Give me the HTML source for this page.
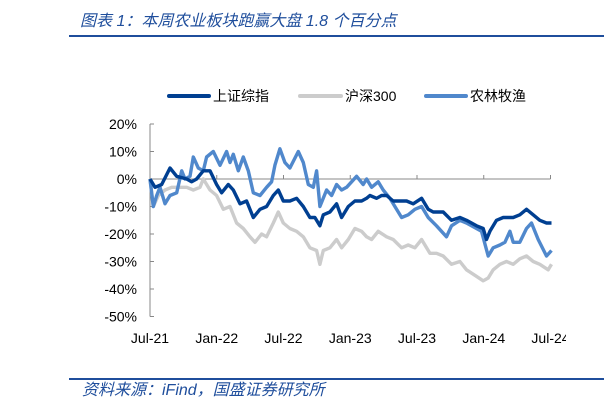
<!DOCTYPE html>
<html><head><meta charset="utf-8">
<style>
body{margin:0;width:608px;height:408px;background:#fff;overflow:hidden;font-family:"Liberation Sans","Noto Sans CJK SC",sans-serif}
svg{display:block}
</style></head>
<body>
<svg id="chart" width="608" height="408" xmlns="http://www.w3.org/2000/svg">
<defs><clipPath id="lblclip"><rect x="0" y="0" width="566" height="408"/></clipPath></defs>
<text x="80" y="26" font-size="16" font-style="italic" fill="#1f4e9c" font-family="Liberation Sans,Noto Sans CJK SC,sans-serif">图表 1：本周农业板块跑赢大盘 1.8 个百分点</text>
<line x1="69" y1="36" x2="604" y2="36" stroke="#1f4e9c" stroke-width="2"/>
<g font-size="14" fill="#000">
<line x1="169" y1="96" x2="209" y2="96" stroke="#003f91" stroke-width="4" stroke-linecap="round"/>
<text x="213" y="101">上证综指</text>
<line x1="300" y1="96" x2="341" y2="96" stroke="#cccccc" stroke-width="4" stroke-linecap="round"/>
<text x="345" y="101">沪深300</text>
<line x1="426" y1="96" x2="466" y2="96" stroke="#5088cc" stroke-width="4" stroke-linecap="round"/>
<text x="470" y="101">农林牧渔</text>
</g>
<g id="axes"></g>
<g id="series"></g>
<line x1="69" y1="379" x2="604" y2="379" stroke="#1f4e9c" stroke-width="2"/>
<text x="82" y="395" font-size="16" font-style="italic" fill="#1f4e9c" font-family="Liberation Sans,Noto Sans CJK SC,sans-serif">资料来源：iFind，国盛证券研究所</text>
</svg>
<script>
const xTickLabels=["Jul-21","Jan-22","Jul-22","Jan-23","Jul-23","Jan-24","Jul-24"];
const yTicks=[20,10,0,-10,-20,-30,-40,-50];
const sseX=[150,165,185,210,230,260,275,290,310,330,350,365,385,400,420,440,460,480,500,520,535,550,570,590,610,630,645,660,670,690,710,725,745,765,785,800,810,830,845,860,880,900,920,940,965,985,1000,1030,1055,1080,1100,1130,1150,1160,1170,1190,1210,1240,1260,1280,1300,1320,1340,1355];
const sseV=[0,-3,-2,4,1,0,-1,0,3,3,-2,-5,-2,-4,-9,-8,-14,-11,-10,-6,-4,-8,-8,-7,-10,-14,-14,-17,-13,-12,-9,-14,-10,-8,-8,-7,-6,-7,-6,-6,-8,-8,-8,-9,-7,-11,-12,-12,-15,-14,-15,-17,-18,-22,-19,-15,-14,-14,-13,-11,-13,-15,-16,-16];
const agriX=[150,160,170,180,195,210,230,245,255,270,280,295,310,320,340,360,380,390,400,415,430,445,460,480,500,515,525,540,555,570,595,610,625,640,650,660,680,695,710,725,740,755,770,790,800,815,835,850,870,885,905,925,945,965,985,1010,1040,1055,1080,1100,1130,1145,1165,1180,1200,1215,1230,1240,1260,1280,1295,1315,1340,1355];
const agriV=[0,-10,-6,-3,-9,-6,-5,3,0,1,8,4,3,8,10,5,10,6,9,3,8,3,-5,-6,-3,-1,5,11,6,4,10,6,-2,-3,3,-10,-4,-6,-2,-4,-3,-1,1,-2,0,-3,-1,-4,-7,-10,-14,-13,-11,-10,-14,-17,-21,-17,-15,-16,-18,-19,-28,-25,-24,-23,-19,-23,-23,-18,-16,-22,-28,-26];
const hsX=[150,160,175,195,215,240,260,280,300,310,330,350,370,390,410,430,450,465,485,500,520,535,550,570,590,610,630,650,660,670,690,710,725,745,765,785,800,815,835,860,880,905,925,945,965,990,1010,1030,1055,1080,1100,1125,1150,1165,1180,1200,1220,1240,1260,1280,1300,1320,1345,1355];
const hsV=[0,-10,-6,-4,-3,-3,-3,-4,-3,0,-4,-6,-11,-10,-16,-18,-21,-23,-20,-21,-16,-12,-16,-18,-19,-21,-25,-26,-31,-26,-25,-22,-25,-22,-18,-19,-21,-22,-19,-21,-22,-25,-24,-25,-22,-27,-27,-28,-31,-30,-33,-35,-37,-36,-33,-31,-30,-31,-29,-28,-30,-31,-33,-31];
const NS="http://www.w3.org/2000/svg";
const x0=150,x1=550.5,y20=124,yPer=2.75;
const sx=zx=>x0+(zx-150)/1202*(x1-x0);
const sy=v=>y20+(20-v)*yPer;
const axes=document.getElementById('axes'),ser=document.getElementById('series');
function mk(t,a,p){const e=document.createElementNS(NS,t);for(const k in a)e.setAttribute(k,a[k]);p.appendChild(e);return e;}
const ya=mk('line',{x1:x0,y1:sy(20),x2:x0,y2:sy(-50),stroke:'#888','stroke-width':1},axes);


yTicks.forEach(v=>{
 mk('line',{x1:x0,y1:sy(v),x2:x0+4,y2:sy(v),stroke:'#888'},axes);
 const t=mk('text',{x:x0-13,y:sy(v)+5,'text-anchor':'end','font-size':14},axes);
 t.textContent=v+'%';
 
 
});
const xa=mk('line',{x1:x0,y1:sy(0),x2:x1,y2:sy(0),stroke:'#888'},axes);


xTickLabels.forEach((l,i)=>{
 const x=x0+i*(x1-x0)/6;
 mk('line',{x1:x,y1:sy(0),x2:x,y2:sy(0)-4,stroke:'#888'},axes);
 const t=mk('text',{x:x,y:343,'text-anchor':'middle','font-size':14,'clip-path':'url(#lblclip)'},axes);
 t.textContent=l;
 
 
});
function line(xs,vs,c,name){
 const d=xs.map((z,i)=>(i?'L':'M')+sx(z).toFixed(1)+','+sy(vs[i]).toFixed(1)).join('');
 const p=mk('path',{d:d,fill:'none',stroke:c,'stroke-width':3.4,'stroke-linejoin':'round'},ser);
 
 
}
line(hsX,hsV,'#cccccc','line-hs300');
line(agriX,agriV,'#5088cc','line-agri');
line(sseX,sseV,'#003f91','line-sse');
</script>
</body></html>
